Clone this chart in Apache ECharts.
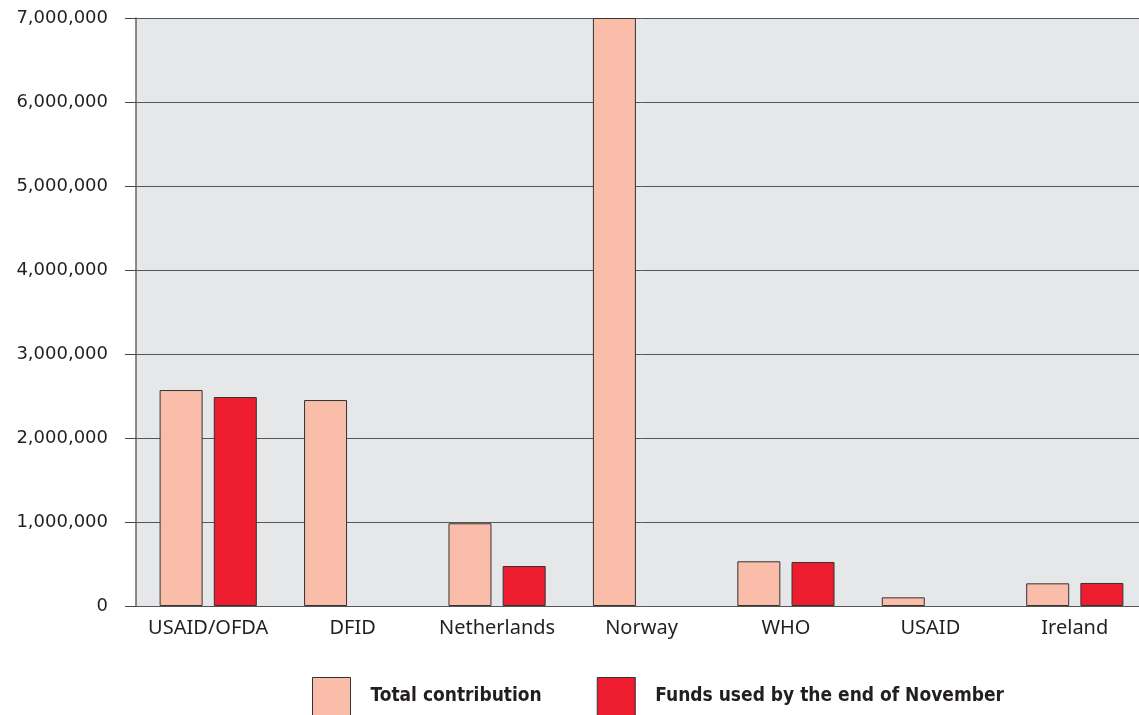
<!DOCTYPE html>
<html lang="en">
<head>
    <meta charset="UTF-8">
    <title>Contributions</title>
    <script src="https://cdn.jsdelivr.net/npm/echarts@6/dist/echarts.min.js"></script>
    <style>
        html, body { margin: 0; padding: 0; background: #fff; overflow: hidden; }
        /* plot runs slightly past the right edge of the window, as in the source */
        #chart { width: 1147px; height: 715px; }
    </style>
</head>
<body>
<div id="chart"></div>
<script>
    // donors along the x axis
    var donors = ['USAID/OFDA', 'DFID', 'Netherlands', 'Norway', 'WHO', 'USAID', 'Ireland']
    // values (USD)
    var totalContribution = [2571000, 2452000, 985000, 7000000, 532000, 103000, 270000]
    var fundsUsed = [2488000, null, 476000, null, 524000, null, 274000]
    var seriesNames = ['Total contribution', 'Funds used by the end of November']

    function withCommas(v) {
        return String(v).replace(/\B(?=(\d{3})+(?!\d))/g, ',')
    }

    var chart = echarts.init(document.getElementById('chart'))
    var option = {
        animation: false,
        grid: {
            left: 136, right: 0, top: 18, bottom: 109,
            show: true, backgroundColor: '#e6e7e8', borderWidth: 0
        },
        legend: {
            left: 312, top: 677, padding: 0,
            icon: 'rect', itemWidth: 38, itemHeight: 38, itemGap: 55,
            itemStyle: { borderColor: '#333', borderWidth: 1 },
            textStyle: {
                fontFamily: '"DejaVu Sans Condensed", "Liberation Sans Narrow", sans-serif',
                fontWeight: 'bold', fontSize: 19, color: '#231f20',
                padding: [3, 0, 0, 15]
            },
            data: seriesNames
        },
        xAxis: {
            type: 'category',
            data: donors,
            axisLine: { lineStyle: { color: '#555', width: 1 } },
            axisTick: { length: 10, lineStyle: { color: '#333' } },
            axisLabel: {
                interval: 0,
                margin: 12, fontSize: 20, color: '#231f20',
                fontFamily: '"Noto Sans", sans-serif'
            }
        },
        yAxis: {
            type: 'value',
            min: 0, max: 7000000, interval: 1000000,
            axisLine: { show: true, lineStyle: { color: '#666', width: 1.5 } },
            axisTick: { show: true, length: 11, lineStyle: { color: '#444' } },
            splitLine: { lineStyle: { color: '#555', width: 1 } },
            axisLabel: {
                margin: 28, fontSize: 18, color: '#231f20',
                fontFamily: '"DejaVu Sans", sans-serif',
                formatter: withCommas
            }
        },
        series: [
            {
                name: seriesNames[0], type: 'bar', data: totalContribution,
                barWidth: 43, barGap: '26%',
                itemStyle: { color: '#f9bdaa', borderColor: '#333', borderWidth: 1 }
            },
            {
                name: seriesNames[1], type: 'bar', data: fundsUsed,
                barWidth: 43,
                itemStyle: { color: '#ed1c2e', borderColor: '#333', borderWidth: 1 }
            }
        ]
    }
    chart.setOption(option)
</script>
</body>
</html>
